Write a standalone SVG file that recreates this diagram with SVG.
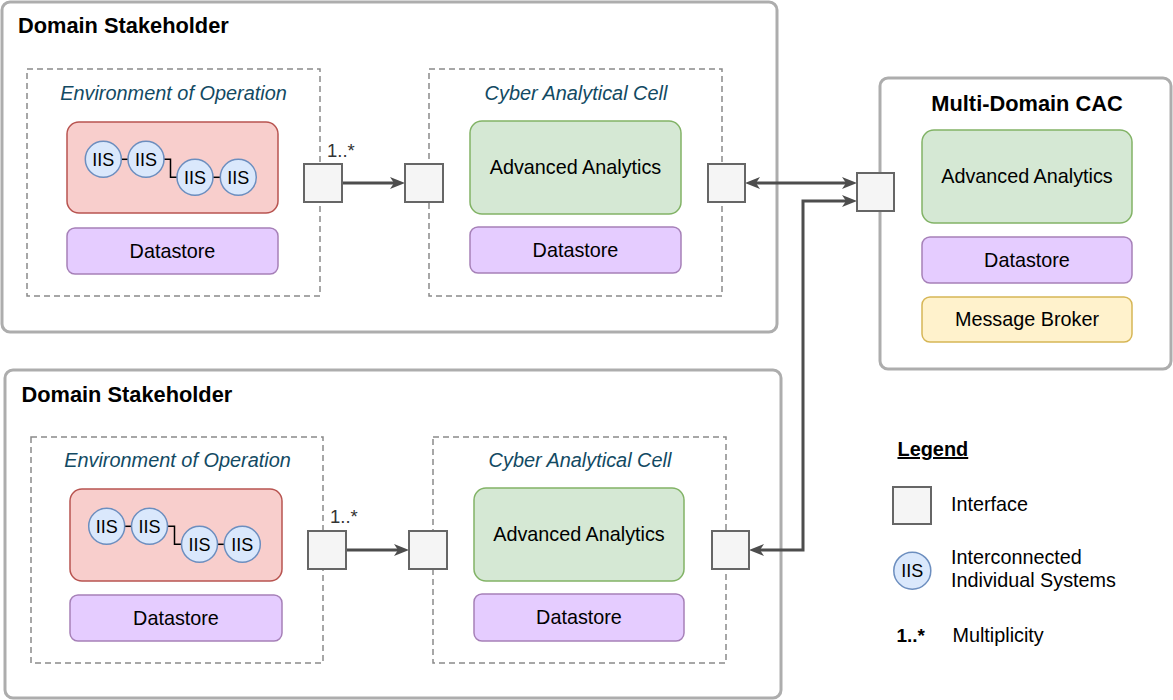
<svg xmlns="http://www.w3.org/2000/svg" width="1173" height="700" viewBox="0 0 1173 700">
  <style>
    text { font-family: "Liberation Sans", Arial, Helvetica, sans-serif; fill: #000; }
    .container { fill: #ffffff; stroke: #adadad; stroke-width: 3; }
    .zone { fill: none; stroke: #8a8a8a; stroke-width: 1.5; stroke-dasharray: 6 4; }
    .title { font-size: 21.8px; font-weight: bold; }
    .zonelabel { font-size: 19.9px; font-style: italic; fill: #124a63; text-anchor: middle; }
    .label { font-size: 19.8px; text-anchor: middle; }
    .iis-box { fill: #f8cecc; stroke: #b85450; stroke-width: 1.5; }
    .analytics { fill: #d5e8d4; stroke: #82b366; stroke-width: 1.5; }
    .datastore { fill: #e5ccff; stroke: #a680b8; stroke-width: 1.5; }
    .broker { fill: #fff2cc; stroke: #d6b656; stroke-width: 1.5; }
    .iis { fill: #dae8fc; stroke: #6c8ebf; stroke-width: 1.5; }
    .iis-text { font-size: 18px; text-anchor: middle; }
    .link { fill: none; stroke: #000; stroke-width: 1.5; }
    .iface { fill: #f5f5f5; stroke: #666666; stroke-width: 2; }
    .flow { fill: none; stroke: #4d4d4d; stroke-width: 3; }
    .mult { font-size: 18.5px; fill: #333333; }
  </style>
  <defs>
    <marker id="arrow" viewBox="0 0 15 12" refX="9" refY="6" markerWidth="15" markerHeight="12" markerUnits="userSpaceOnUse" orient="auto-start-reverse">
      <path d="M0,0 L15,6 L0,12 L4,6 z" fill="#4d4d4d"/>
    </marker>
  </defs>

  <!-- Upper domain stakeholder -->
  <g id="stakeholder-top">
    <rect class="container" x="2" y="2" width="775" height="330" rx="8"/>
    <text class="title" x="18" y="33">Domain Stakeholder</text>
  </g>
  <g id="eoo-top">
    <rect class="zone" x="27" y="69" width="293" height="227"/>
    <text class="zonelabel" x="173.5" y="100">Environment of Operation</text>
  </g>
  <g id="iis-top">
    <rect class="iis-box" x="67" y="122" width="211" height="91" rx="12"/>
    <line class="link" x1="121.3" y1="159.3" x2="128" y2="159.3"/>
    <path class="link" d="M164,159.3 H170.5 V177.3 H177"/>
    <line class="link" x1="213" y1="177.3" x2="220.3" y2="177.3"/>
    <circle class="iis" cx="103.3" cy="159.3" r="18"/>
    <circle class="iis" cx="146" cy="159.3" r="18"/>
    <circle class="iis" cx="195" cy="177.3" r="18"/>
    <circle class="iis" cx="238.3" cy="177.3" r="18"/>
    <text class="iis-text" x="103.3" y="165.8">IIS</text>
    <text class="iis-text" x="146" y="165.8">IIS</text>
    <text class="iis-text" x="195" y="183.8">IIS</text>
    <text class="iis-text" x="238.3" y="183.8">IIS</text>
  </g>
  <g id="eoo-datastore-top">
    <rect class="datastore" x="67" y="228" width="211" height="46" rx="8"/>
    <text class="label" x="172.5" y="257.5">Datastore</text>
  </g>
  <g id="cac-top">
    <rect class="zone" x="429" y="69" width="293" height="227"/>
    <text class="zonelabel" x="576" y="100">Cyber Analytical Cell</text>
  </g>
  <g id="analytics-top">
    <rect class="analytics" x="470" y="121" width="211" height="93" rx="12"/>
    <text class="label" x="575.5" y="173.5">Advanced Analytics</text>
  </g>
  <g id="cac-datastore-top">
    <rect class="datastore" x="470" y="227" width="211" height="46" rx="8"/>
    <text class="label" x="575.5" y="257">Datastore</text>
  </g>

  <!-- Multi-domain CAC -->
  <g id="multi-domain-cac">
    <rect class="container" x="880" y="78" width="291" height="291" rx="8"/>
    <text class="title" x="1027" y="111" text-anchor="middle">Multi-Domain CAC</text>
  </g>
  <g id="analytics-md">
    <rect class="analytics" x="922" y="130" width="210" height="93" rx="12"/>
    <text class="label" x="1027" y="183">Advanced Analytics</text>
  </g>
  <g id="datastore-md">
    <rect class="datastore" x="922" y="237" width="210" height="46" rx="8"/>
    <text class="label" x="1027" y="266.5">Datastore</text>
  </g>
  <g id="broker-md">
    <rect class="broker" x="922" y="297" width="210" height="45" rx="8"/>
    <text class="label" x="1027" y="326">Message Broker</text>
  </g>

  <!-- Lower domain stakeholder -->
  <g id="stakeholder-bottom">
    <rect class="container" x="5" y="370" width="776" height="328" rx="8"/>
    <text class="title" x="21.5" y="402">Domain Stakeholder</text>
  </g>
  <g id="eoo-bottom">
    <rect class="zone" x="31" y="437" width="292" height="226"/>
    <text class="zonelabel" x="177.5" y="467">Environment of Operation</text>
  </g>
  <g id="iis-bottom">
    <rect class="iis-box" x="70" y="489" width="212" height="92" rx="12"/>
    <line class="link" x1="124.7" y1="526.3" x2="131.5" y2="526.3"/>
    <path class="link" d="M167.5,526.3 H174.5 V544.3 H181.5"/>
    <line class="link" x1="217.5" y1="544.3" x2="224.3" y2="544.3"/>
    <circle class="iis" cx="106.7" cy="526.3" r="18"/>
    <circle class="iis" cx="149.5" cy="526.3" r="18"/>
    <circle class="iis" cx="199.5" cy="544.3" r="18"/>
    <circle class="iis" cx="242.3" cy="544.3" r="18"/>
    <text class="iis-text" x="106.7" y="532.8">IIS</text>
    <text class="iis-text" x="149.5" y="532.8">IIS</text>
    <text class="iis-text" x="199.5" y="550.8">IIS</text>
    <text class="iis-text" x="242.3" y="550.8">IIS</text>
  </g>
  <g id="eoo-datastore-bottom">
    <rect class="datastore" x="70" y="595" width="212" height="46" rx="8"/>
    <text class="label" x="176" y="624.5">Datastore</text>
  </g>
  <g id="cac-bottom">
    <rect class="zone" x="433" y="437" width="293" height="226"/>
    <text class="zonelabel" x="580" y="467">Cyber Analytical Cell</text>
  </g>
  <g id="analytics-bottom">
    <rect class="analytics" x="474" y="488" width="210" height="93" rx="12"/>
    <text class="label" x="579" y="541">Advanced Analytics</text>
  </g>
  <g id="cac-datastore-bottom">
    <rect class="datastore" x="474" y="594" width="210" height="47" rx="8"/>
    <text class="label" x="579" y="624">Datastore</text>
  </g>

  <!-- Connectors between interfaces -->
  <g id="connectors">
    <line class="flow" x1="342" y1="183" x2="399" y2="183" marker-end="url(#arrow)"/>
    <line class="flow" x1="751" y1="183" x2="851" y2="183" marker-start="url(#arrow)" marker-end="url(#arrow)"/>
    <line class="flow" x1="346" y1="550" x2="403" y2="550" marker-end="url(#arrow)"/>
    <path class="flow" d="M755,550 H803 V201 H851" marker-start="url(#arrow)" marker-end="url(#arrow)"/>
    <text class="mult" x="327" y="157">1..*</text>
    <text class="mult" x="330" y="523">1..*</text>
  </g>

  <!-- Interfaces -->
  <g id="iface-eoo-top"><rect class="iface" x="304" y="164" width="38" height="38"/></g>
  <g id="iface-cac-in-top"><rect class="iface" x="405" y="164" width="38" height="38"/></g>
  <g id="iface-cac-out-top"><rect class="iface" x="708" y="164" width="37" height="38"/></g>
  <g id="iface-md"><rect class="iface" x="857" y="173" width="37" height="38"/></g>
  <g id="iface-eoo-bottom"><rect class="iface" x="308" y="531" width="38" height="38"/></g>
  <g id="iface-cac-in-bottom"><rect class="iface" x="409" y="531" width="38" height="38"/></g>
  <g id="iface-cac-out-bottom"><rect class="iface" x="712" y="531" width="37" height="38"/></g>

  <!-- Legend -->
  <g id="legend">
    <text x="897.5" y="456" font-size="19.9" font-weight="bold" text-decoration="underline">Legend</text>
    <rect class="iface" x="893" y="487" width="38" height="37"/>
    <text x="951" y="511" font-size="19.8">Interface</text>
    <circle class="iis" cx="912.3" cy="570.7" r="18.5"/>
    <text class="iis-text" x="912.3" y="577.2">IIS</text>
    <text x="951" y="563.5" font-size="19.8">Interconnected</text>
    <text x="951" y="586.5" font-size="19.8">Individual Systems</text>
    <text x="896.5" y="641.5" font-size="19" font-weight="bold" fill="#555555">1..*</text>
    <text x="952.5" y="641.5" font-size="19.8">Multiplicity</text>
  </g>
</svg>
